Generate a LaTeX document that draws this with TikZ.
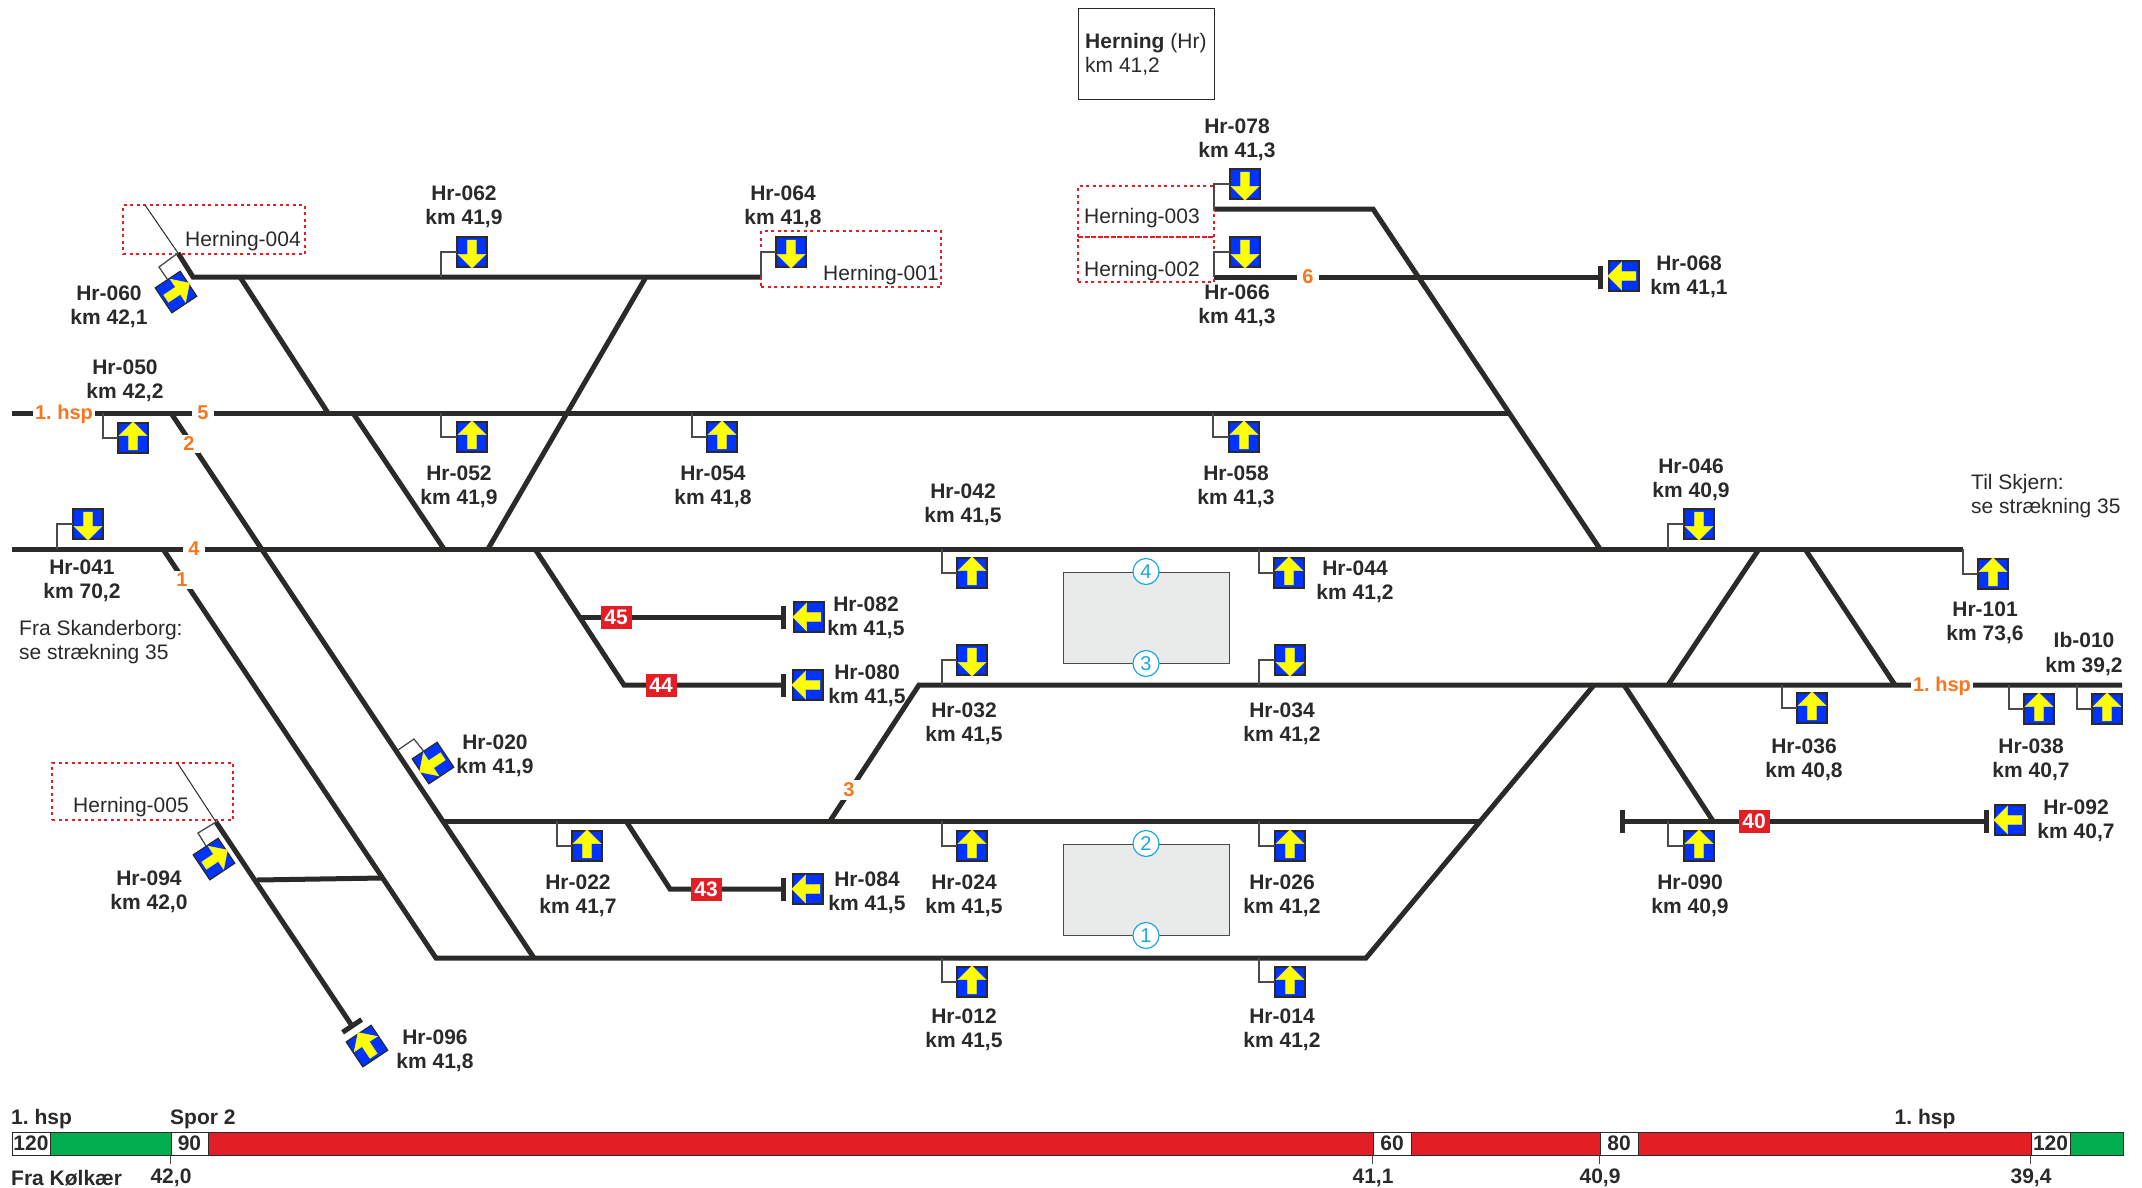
\documentclass[tikz,border=0pt]{standalone}
\usepackage{fontspec}
\setmainfont{Liberation Sans}
\frenchspacing
\usetikzlibrary{arrows.meta, shapes.arrows}
\definecolor{ink}{HTML}{2B2A29}
\definecolor{wire}{HTML}{4A4A4A}
\definecolor{sigblue}{HTML}{0033FF}
\definecolor{sigyellow}{HTML}{FFFF00}
\definecolor{hspred}{HTML}{E31E24}
\definecolor{hspgreen}{HTML}{00AE4F}
\definecolor{spororange}{HTML}{F7761E}
\definecolor{perron}{HTML}{E9EAEA}
\definecolor{perronblue}{HTML}{1BA8E0}

\begin{document}
\begin{tikzpicture} [
        x=1pt, y=-1pt,
        track/.style={draw=ink, line width=5pt, line join=miter},
        bumper/.style={-{Bar[width=23pt,line width=5pt]}},
        bumpers/.style={{Bar[width=23pt,line width=5pt]}-{Bar[width=23pt,line width=5pt]}},
        wirel/.style={draw=wire, line width=1.3pt},
        sigbox/.style={draw=ink, line width=1.2pt, fill=sigblue, rectangle, minimum size=30pt, inner sep=0pt, outer sep=0pt},
        sigarrow/.style={single arrow, fill=sigyellow, draw=sigyellow!70!lightgray, line width=.6pt, inner xsep=0pt, inner ysep=4pt, outer sep=0pt, minimum height=28pt, single arrow head extend=9.5pt, single arrow head indent=0pt},
        tag/.style={font=\fontsize{21}{24.4}\selectfont\bfseries, align=center, text=ink, inner sep=0pt, yshift=-2pt},
        plain/.style={font=\fontsize{21}{24.4}\selectfont, align=left, text=ink, inner sep=0pt, yshift=-2pt},
        sporno/.style={font=\fontsize{20}{24}\selectfont\bfseries, text=spororange, fill=white, inner xsep=5.5pt, inner ysep=2.5pt},
        redno/.style={font=\fontsize{21}{24}\selectfont\bfseries, text=white, fill=hspred, minimum width=31pt, minimum height=23pt, inner sep=0pt},
        field/.style={draw=hspred, line width=1.5pt, dash pattern=on 3pt off 3.5pt, rectangle, inner sep=0pt},
        perronbox/.style={draw=wire, line width=1pt, fill=perron, rectangle, minimum width=166pt, minimum height=91pt, inner sep=0pt},
        perronno/.style={draw=perronblue, line width=1.2pt, fill=white, text=perronblue, circle, minimum size=26pt, inner sep=0pt, font=\fontsize{20}{20}\selectfont},
        speed/.style={draw=ink, line width=1pt, rectangle, minimum height=23pt, inner sep=0pt, font=\fontsize{21}{21}\selectfont\bfseries, text=ink}
    ]
    \useasboundingbox (0,0) rectangle (2142,1187);

    % Station
    \node[draw=ink, line width=1pt, rectangle, minimum width=136pt, minimum height=91pt] (station) at (1146,53.5) {};
    \node[plain, anchor=west] (stationtxt) at (1085,52) {\textbf{Herning} (Hr)\\km 41,2};

    % Platforms
    \node[perronbox] (perronN) at (1146,617.5) {};
    \node[perronbox] (perronS) at (1146,889.5) {};
    \node[perronno] (p4) at (perronN.north) {4};
    \node[perronno] (p3) at (perronN.south) {3};
    \node[perronno] (p2) at (perronS.north) {2};
    \node[perronno] (p1) at (perronS.south) {1};

    % Track points
    \coordinate (topA) at (178,253);
    \coordinate (topB) at (193,277);
    \coordinate (topC) at (761,277);
    \coordinate (ladA) at (240,277);
    \coordinate (ladB) at (328,413);
    \coordinate (ladC) at (353,413);
    \coordinate (ladD) at (444,549);
    \coordinate (ladE) at (646,277);
    \coordinate (ladF) at (488,549);
    \coordinate (s5W) at (12,413);
    \coordinate (s5E) at (1509,413);
    \coordinate (s4W) at (12,549);
    \coordinate (s4E) at (1963,549);
    \coordinate (s2A) at (171,413);
    \coordinate (s2B) at (534,958);
    \coordinate (s1A) at (163,549);
    \coordinate (s1B) at (436,958);
    \coordinate (s1C) at (1366,958);
    \coordinate (s1D) at (1594,685);
    \coordinate (s2W) at (444,821);
    \coordinate (s2E) at (1480,821);
    \coordinate (s3A) at (830,821);
    \coordinate (s3B) at (919,685);
    \coordinate (s3E) at (2122,685);
    \coordinate (b45A) at (535,549);
    \coordinate (b45B) at (580,617);
    \coordinate (b45C) at (785.5,617);
    \coordinate (b44A) at (624,685);
    \coordinate (b44B) at (785.5,685);
    \coordinate (b43A) at (626,821);
    \coordinate (b43B) at (670,889);
    \coordinate (b43C) at (785.5,889);
    \coordinate (s7A) at (1214,209);
    \coordinate (s7B) at (1373,209);
    \coordinate (s7C) at (1600,549);
    \coordinate (s6W) at (1214,277);
    \coordinate (s6E) at (1602.5,277);
    \coordinate (xA) at (1759,549);
    \coordinate (xB) at (1668,685);
    \coordinate (xC) at (1805,549);
    \coordinate (xD) at (1895,685);
    \coordinate (xE) at (1624,685);
    \coordinate (xF) at (1713,821);
    \coordinate (b40W) at (1619.5,821);
    \coordinate (b40E) at (1988.5,821);
    \coordinate (b96A) at (216,822);
    \coordinate (b96B) at (353.5,1028);
    \coordinate (xG) at (257,880);
    \coordinate (xH) at (382,878);

    % Tracks
    \draw[track] (topA) -- (topB) -- (topC);
    \draw[track] (ladA) -- (ladB);
    \draw[track] (ladC) -- (ladD);
    \draw[track] (ladE) -- (ladF);
    \draw[track] (s5W) -- (s5E);
    \draw[track] (s4W) -- (s4E);
    \draw[track] (s2A) -- (s2B);
    \draw[track] (s1A) -- (s1B) -- (s1C) -- (s1D);
    \draw[track] (s2W) -- (s2E);
    \draw[track] (s3A) -- (s3B) -- (s3E);
    \draw[track, bumper] (b45A) -- (b44A) -- (b44B);
    \draw[track, bumper] (b45B) -- (b45C);
    \draw[track, bumper] (b43A) -- (b43B) -- (b43C);
    \draw[track] (s7A) -- (s7B) -- (s7C);
    \draw[track, bumper] (s6W) -- (s6E);
    \draw[track] (xA) -- (xB);
    \draw[track] (xC) -- (xD);
    \draw[track] (xE) -- (xF);
    \draw[track, bumpers] (b40W) -- (b40E);
    \draw[track, bumper] (b96A) -- (b96B);
    \draw[track] (xG) -- (xH);

    % Track numbers
    \node[sporno, inner xsep=2pt] (hspW) at (64,414) {1. hsp};
    \node[sporno] (no5) at (203,413) {5};
    \node[sporno] (no4) at (194,549) {4};
    \node[sporno] (no2) at (189,444) {2};
    \node[sporno] (no1) at (182,580) {1};
    \node[sporno] (no3) at (849,790) {3};
    \node[sporno] (no6) at (1308,277) {6};
    \node[sporno, inner xsep=2pt] (hspE) at (1942,686) {1. hsp};
    \node[redno] (no45) at (616,617) {45};
    \node[redno] (no44) at (661,685) {44};
    \node[redno] (no43) at (706,889) {43};
    \node[redno] (no40) at (1754,821) {40};

    % Field boxes
    \node[field, minimum width=182pt, minimum height=49pt] (f004) at (214,229.5) {};
    \node[plain] (t004) at (243,239) {Herning-004};
    \coordinate (f004c) at (145,205);
    \draw[ink, line width=1pt] (f004c) -- (topA);
    \node[field, minimum width=180pt, minimum height=56pt] (f001) at (851,259) {};
    \node[plain] (t001) at (881,273) {Herning-001};
    \node[field, minimum width=136pt, minimum height=51pt] (f003) at (1146,211.5) {};
    \node[plain] (t003) at (1142,216) {Herning-003};
    \node[field, minimum width=136pt, minimum height=45pt] (f002) at (1146,259.5) {};
    \node[plain] (t002) at (1142,269) {Herning-002};
    \node[field, minimum width=181pt, minimum height=57pt] (f005) at (142.5,791.5) {};
    \node[plain] (t005) at (131,805) {Herning-005};
    \coordinate (f005c) at (177.5,763);
    \draw[ink, line width=1pt] (f005c) -- (b96A);

    % Signals on top track
    \node[sigbox, rotate=33.7] (s060) at (176,292) {};
    \node[sigarrow, rotate=33.7] (a060) at (s060) {};
    \coordinate (c060) at (159,267);
    \draw[wirel] (topA) -- (c060) -- (s060);
    \node[tag] (l060) at (109,305) {Hr-060\\km 42,1};
    \node[sigbox] (s062) at (472,252) {};
    \node[sigarrow, rotate=-90] (a062) at (s062) {};
    \coordinate (c062) at (441,277);
    \draw[wirel] (c062) |- (s062);
    \node[tag] (l062) at (464,205) {Hr-062\\km 41,9};
    \node[sigbox] (s064) at (791,252) {};
    \node[sigarrow, rotate=-90] (a064) at (s064) {};
    \draw[wirel] (topC) |- (s064);
    \node[tag] (l064) at (783,205) {Hr-064\\km 41,8};

    % Signals on track 5
    \node[sigbox] (s050) at (133,438) {};
    \node[sigarrow, rotate=90] (a050) at (s050) {};
    \coordinate (c050) at (103,413);
    \draw[wirel] (c050) |- (s050);
    \node[tag] (l050) at (125,379) {Hr-050\\km 42,2};
    \node[sigbox] (s052) at (472,437) {};
    \node[sigarrow, rotate=90] (a052) at (s052) {};
    \coordinate (c052) at (441,413);
    \draw[wirel] (c052) |- (s052);
    \node[tag] (l052) at (459,485) {Hr-052\\km 41,9};
    \node[sigbox] (s054) at (722,437) {};
    \node[sigarrow, rotate=90] (a054) at (s054) {};
    \coordinate (c054) at (692,413);
    \draw[wirel] (c054) |- (s054);
    \node[tag] (l054) at (713,485) {Hr-054\\km 41,8};
    \node[sigbox] (s058) at (1244,437) {};
    \node[sigarrow, rotate=90] (a058) at (s058) {};
    \coordinate (c058) at (1213,413);
    \draw[wirel] (c058) |- (s058);
    \node[tag] (l058) at (1236,485) {Hr-058\\km 41,3};

    % Signals at north end
    \node[sigbox] (s078) at (1245,184) {};
    \node[sigarrow, rotate=-90] (a078) at (s078) {};
    \draw[wirel] (s7A) |- (s078);
    \node[tag] (l078) at (1237,138) {Hr-078\\km 41,3};
    \node[sigbox] (s066) at (1245,252) {};
    \node[sigarrow, rotate=-90] (a066) at (s066) {};
    \draw[wirel] (s6W) |- (s066);
    \node[tag] (l066) at (1237,304) {Hr-066\\km 41,3};
    \node[sigbox] (s068) at (1624,276) {};
    \node[sigarrow, rotate=180] (a068) at (s068) {};
    \node[tag] (l068) at (1689,275) {Hr-068\\km 41,1};

    % Signals on track 4
    \node[sigbox] (s041) at (88,524) {};
    \node[sigarrow, rotate=-90] (a041) at (s041) {};
    \coordinate (c041) at (57,549);
    \draw[wirel] (c041) |- (s041);
    \node[tag] (l041) at (82,579) {Hr-041\\km 70,2};
    \node[sigbox] (s042) at (972,573) {};
    \node[sigarrow, rotate=90] (a042) at (s042) {};
    \coordinate (c042) at (942,549);
    \draw[wirel] (c042) |- (s042);
    \node[tag] (l042) at (963,503) {Hr-042\\km 41,5};
    \node[sigbox] (s044) at (1289,573) {};
    \node[sigarrow, rotate=90] (a044) at (s044) {};
    \coordinate (c044) at (1259,549);
    \draw[wirel] (c044) |- (s044);
    \node[tag] (l044) at (1355,580) {Hr-044\\km 41,2};
    \node[sigbox] (s046) at (1699,524) {};
    \node[sigarrow, rotate=-90] (a046) at (s046) {};
    \coordinate (c046) at (1668,549);
    \draw[wirel] (c046) |- (s046);
    \node[tag] (l046) at (1691,478) {Hr-046\\km 40,9};
    \node[sigbox] (s101) at (1993,574) {};
    \node[sigarrow, rotate=90] (a101) at (s101) {};
    \draw[wirel] (s4E) |- (s101);
    \node[tag] (l101) at (1985,621) {Hr-101\\km 73,6};

    % Signals on stub tracks
    \node[sigbox] (s082) at (809,617) {};
    \node[sigarrow, rotate=180] (a082) at (s082) {};
    \node[tag] (l082) at (866,616) {Hr-082\\km 41,5};
    \node[sigbox] (s080) at (808,685) {};
    \node[sigarrow, rotate=180] (a080) at (s080) {};
    \node[tag] (l080) at (867,684) {Hr-080\\km 41,5};
    \node[sigbox] (s084) at (808,889) {};
    \node[sigarrow, rotate=180] (a084) at (s084) {};
    \node[tag] (l084) at (867,891) {Hr-084\\km 41,5};
    \node[sigbox] (s092) at (2010,820) {};
    \node[sigarrow, rotate=180] (a092) at (s092) {};
    \node[tag] (l092) at (2076,819) {Hr-092\\km 40,7};

    % Signals on track 3
    \node[sigbox] (s032) at (972,660) {};
    \node[sigarrow, rotate=-90] (a032) at (s032) {};
    \coordinate (c032) at (942,685);
    \draw[wirel] (c032) |- (s032);
    \node[tag] (l032) at (964,722) {Hr-032\\km 41,5};
    \node[sigbox] (s034) at (1290,660) {};
    \node[sigarrow, rotate=-90] (a034) at (s034) {};
    \coordinate (c034) at (1259,685);
    \draw[wirel] (c034) |- (s034);
    \node[tag] (l034) at (1282,722) {Hr-034\\km 41,2};
    \node[sigbox] (s036) at (1812,708) {};
    \node[sigarrow, rotate=90] (a036) at (s036) {};
    \coordinate (c036) at (1782,685);
    \draw[wirel] (c036) |- (s036);
    \node[tag] (l036) at (1804,758) {Hr-036\\km 40,8};
    \node[sigbox] (s038) at (2039,709) {};
    \node[sigarrow, rotate=90] (a038) at (s038) {};
    \coordinate (c038) at (2009,685);
    \draw[wirel] (c038) |- (s038);
    \node[tag] (l038) at (2031,758) {Hr-038\\km 40,7};
    \node[sigbox] (s010) at (2107,709) {};
    \node[sigarrow, rotate=90] (a010) at (s010) {};
    \coordinate (c010) at (2077,685);
    \draw[wirel] (c010) |- (s010);
    \node[tag] (l010) at (2084,652) {Ib-010\\km 39,2};

    % Signals on track 2
    \node[sigbox, rotate=33.7] (s020) at (433,763) {};
    \node[sigarrow, rotate=213.7] (a020) at (s020) {};
    \coordinate (d020) at (398,750);
    \coordinate (c020) at (414,739);
    \draw[wirel] (d020) -- (c020) -- (s020);
    \node[tag] (l020) at (495,754) {Hr-020\\km 41,9};
    \node[sigbox] (s022) at (587,846) {};
    \node[sigarrow, rotate=90] (a022) at (s022) {};
    \coordinate (c022) at (557,821);
    \draw[wirel] (c022) |- (s022);
    \node[tag] (l022) at (578,894) {Hr-022\\km 41,7};
    \node[sigbox] (s024) at (972,846) {};
    \node[sigarrow, rotate=90] (a024) at (s024) {};
    \coordinate (c024) at (942,821);
    \draw[wirel] (c024) |- (s024);
    \node[tag] (l024) at (964,894) {Hr-024\\km 41,5};
    \node[sigbox] (s026) at (1290,846) {};
    \node[sigarrow, rotate=90] (a026) at (s026) {};
    \coordinate (c026) at (1259,821);
    \draw[wirel] (c026) |- (s026);
    \node[tag] (l026) at (1282,894) {Hr-026\\km 41,2};
    \node[sigbox] (s090) at (1699,846) {};
    \node[sigarrow, rotate=90] (a090) at (s090) {};
    \coordinate (c090) at (1668,821);
    \draw[wirel] (c090) |- (s090);
    \node[tag] (l090) at (1690,894) {Hr-090\\km 40,9};

    % Signals on track 1
    \node[sigbox] (s012) at (972,982) {};
    \node[sigarrow, rotate=90] (a012) at (s012) {};
    \coordinate (c012) at (942,958);
    \draw[wirel] (c012) |- (s012);
    \node[tag] (l012) at (964,1028) {Hr-012\\km 41,5};
    \node[sigbox] (s014) at (1290,982) {};
    \node[sigarrow, rotate=90] (a014) at (s014) {};
    \coordinate (c014) at (1259,958);
    \draw[wirel] (c014) |- (s014);
    \node[tag] (l014) at (1282,1028) {Hr-014\\km 41,2};

    % Signals on south branch
    \node[sigbox, rotate=33.7] (s094) at (214,859) {};
    \node[sigarrow, rotate=33.7] (a094) at (s094) {};
    \coordinate (c094) at (198,833);
    \draw[wirel] (b96A) -- (c094) -- (s094);
    \node[tag] (l094) at (149,890) {Hr-094\\km 42,0};
    \node[sigbox, rotate=33.7] (s096) at (367,1046) {};
    \node[sigarrow, rotate=123.7] (a096) at (s096) {};
    \node[tag] (l096) at (435,1049) {Hr-096\\km 41,8};

    % Line notes
    \node[plain, anchor=west] (noteW) at (19,640) {Fra Skanderborg:\\se strækning 35};
    \node[plain, anchor=west] (noteE) at (1971,494) {Til Skjern:\\se strækning 35};

    % Speed profile
    \node[speed, fill=white, minimum width=38pt] (v120W) at (31,1143.5) {120};
    \node[speed, fill=hspgreen, minimum width=121pt] (gW) at (110.5,1143.5) {};
    \node[speed, fill=white, minimum width=37pt] (v90) at (189.5,1143.5) {90};
    \node[speed, fill=hspred, minimum width=1165pt] (rA) at (790.5,1143.5) {};
    \node[speed, fill=white, minimum width=38pt] (v60) at (1392,1143.5) {60};
    \node[speed, fill=hspred, minimum width=189pt] (rB) at (1505.5,1143.5) {};
    \node[speed, fill=white, minimum width=38pt] (v80) at (1619,1143.5) {80};
    \node[speed, fill=hspred, minimum width=393pt] (rC) at (1834.5,1143.5) {};
    \node[speed, fill=white, minimum width=39pt] (v120E) at (2050.5,1143.5) {120};
    \node[speed, fill=hspgreen, minimum width=53pt] (gE) at (2096.5,1143.5) {};
    \draw[wirel] (v90.south west) -- ++(0,8);
    \draw[wirel] (v60.south west) -- ++(0,8);
    \draw[wirel] (v80.south west) -- ++(0,8);
    \draw[wirel] (v120E.south west) -- ++(0,8);
    \node[tag, anchor=west] (hsp1) at (11,1117) {1. hsp};
    \node[tag, anchor=west] (spor2) at (170,1117) {Spor 2};
    \node[tag] (hsp2) at (1925,1117) {1. hsp};
    \node[tag, anchor=west] (fra) at (11,1176) {Fra Kølkær};
    \node[tag] (km420) at (171,1176) {42,0};
    \node[tag] (km411) at (1373,1176) {41,1};
    \node[tag] (km409) at (1600,1176) {40,9};
    \node[tag] (km394) at (2031,1176) {39,4};
\end{tikzpicture}
\end{document}
